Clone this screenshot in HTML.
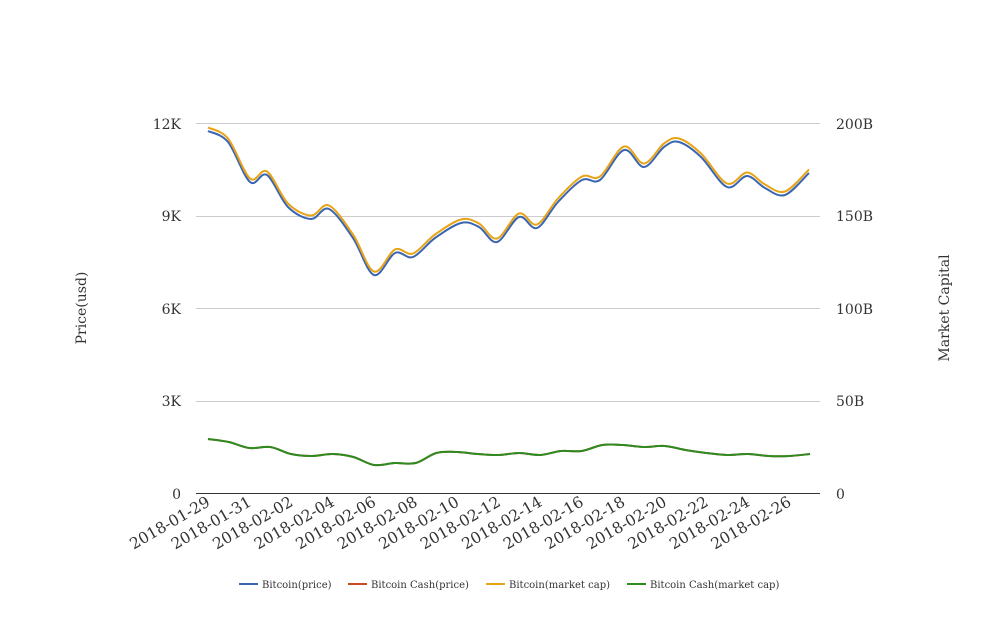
<!DOCTYPE html>
<html><head><meta charset="utf-8"><style>
body{margin:0;background:#fff;width:1008px;height:616px;overflow:hidden}
svg text{font-family:"DejaVu Serif","Liberation Serif",serif;fill:#333}
</style></head><body>
<svg id="s" width="1008" height="616" xmlns="http://www.w3.org/2000/svg">
<g stroke="#ccc" stroke-width="1">
<line x1="196" x2="820" y1="123.5" y2="123.5"/>
<line x1="196" x2="820" y1="216.5" y2="216.5"/>
<line x1="196" x2="820" y1="308.5" y2="308.5"/>
<line x1="196" x2="820" y1="401.5" y2="401.5"/>
</g>
<line x1="196" x2="820" y1="493.5" y2="493.5" stroke="#333" stroke-width="1"/>
<g font-size="14" text-anchor="end">
<text x="181" y="129">12K</text><text x="181" y="221">9K</text><text x="181" y="314">6K</text><text x="181" y="406">3K</text><text x="181" y="499">0</text>
</g>
<g font-size="14" text-anchor="start">
<text x="836" y="129">200B</text><text x="836" y="221">150B</text><text x="836" y="314">100B</text><text x="836" y="406">50B</text><text x="836" y="499">0</text>
</g>
<text font-size="14" transform="translate(86,308) rotate(-90)" text-anchor="middle">Price(usd)</text>
<text font-size="14" transform="translate(949,308) rotate(-90)" text-anchor="middle">Market Capital</text>
<g id="xl" font-size="15.5" text-anchor="end"></g>
<g id="lines" fill="none" stroke-width="2"></g>
<g font-size="10">
<line x1="239" x2="258" y1="584" y2="584" stroke="#3a66b0" stroke-width="2"/><text x="262" y="588">Bitcoin(price)</text>
<line x1="348" x2="367" y1="584" y2="584" stroke="#c84b1e" stroke-width="2"/><text x="371" y="588">Bitcoin Cash(price)</text>
<line x1="486" x2="505" y1="584" y2="584" stroke="#e8a317" stroke-width="2"/><text x="509" y="588">Bitcoin(market cap)</text>
<line x1="627" x2="646" y1="584" y2="584" stroke="#2e8b22" stroke-width="2"/><text x="650" y="588">Bitcoin Cash(market cap)</text>
</g>
</svg>
<script>
var ns="http://www.w3.org/2000/svg";
var blue=[[208,131],[228,142],[250,182],[267,175],[288,207],[311,219],[329,209],[353,238],[374,275],[395,253],[413,257],[435,238],[461,223],[479,227],[497,242],[519,217],[537,228],[558,202],[582,180],[600,180],[624,150],[644,167],[664,147],[679,142],[701,157],[727,187],[747,176],[765,188],[785,195],[809,173]];
var gy=[439,442,448,447,454,456,454,457,465,463,463,453,452,454,455,453,455,451,451,445,445,447,446,450,453,455,454,456,456,454];
var green=gy.map(function(y,i){return [208+i*20.76,y]});
function path(p){var d="M"+p[0][0]+","+p[0][1];for(var i=0;i<p.length-1;i++){var p0=p[i-1]||p[i],p1=p[i],p2=p[i+1],p3=p[i+2]||p2;var c1x=p1[0]+(p2[0]-p0[0])/6,c1y=p1[1]+(p2[1]-p0[1])/6,c2x=p2[0]-(p3[0]-p1[0])/6,c2y=p2[1]-(p3[1]-p1[1])/6;d+=" C"+c1x+","+c1y+" "+c2x+","+c2y+" "+p2[0]+","+p2[1];}return d;}
function add(p,c){var e=document.createElementNS(ns,"path");e.setAttribute("d",path(p));e.setAttribute("stroke",c);document.getElementById("lines").appendChild(e);}
add(green,"#c84b1e");
add(green,"#2e8b22");
add(blue,"#3a66b0");
add(blue.map(function(q){return [q[0],q[1]-3.5]}),"#e8a317");
var xl=document.getElementById("xl");
for(var i=0;i<15;i++){var d=new Date(Date.UTC(2018,0,29+2*i));var s=d.toISOString().slice(0,10);var x=208+i*41.52;var t=document.createElementNS(ns,"text");t.setAttribute("transform","translate("+(x+3)+",505) rotate(-30)");t.textContent=s;xl.appendChild(t);}
</script>
</body></html>
